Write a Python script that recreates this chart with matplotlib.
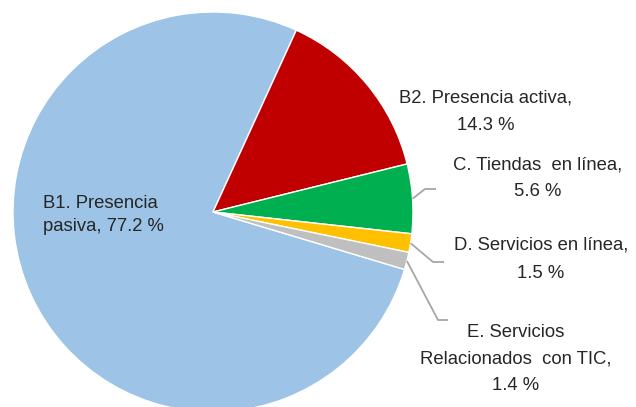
import numpy as np
import matplotlib
matplotlib.use('Agg')
import matplotlib.pyplot as plt

# datos
categorias = ['B1. Presencia pasiva', 'B2. Presencia activa', 'C. Tiendas en línea',
              'D. Servicios en línea', 'E. Servicios Relacionados con TIC']
porcentajes = [77.2, 14.3, 5.6, 1.5, 1.4]
textos = ['B1. Presencia\npasiva, ', 'B2. Presencia activa,\n', 'C. Tiendas  en línea,\n',
          'D. Servicios en línea,\n', 'E. Servicios\nRelacionados  con TIC,\n']
colores = ['#9DC3E6', '#C00000', '#00B050', '#FFC000', '#BFBFBF']

W, H = 636, 407
plt.rcParams['font.family'] = ['Liberation Sans', 'DejaVu Sans']

fig = plt.figure(figsize=(W / 100, H / 100), dpi=100)
ax = fig.add_axes([0, 0, 1, 1])

cx, cy, r = 213, H - 212, 200
wedges, _ = ax.pie(porcentajes, colors=colores, startangle=-16.7, counterclock=False,
                   center=(cx, cy), radius=r,
                   wedgeprops=dict(edgecolor='white', linewidth=1))
ax.set_xlim(0, W)
ax.set_ylim(0, H)
ax.set_aspect('equal')
ax.axis('off')

col_txt = '#262626'
fs = 13.3

# posiciones de etiquetas (pixeles desde arriba): x, y, alineacion, interlineado
pos = [(43, 215, 'left', 1.4), (486, 112, 'center', 1.8), (538, 178, 'center', 1.75),
       (541, 259, 'center', 1.9), (516, 359, 'center', 1.7)]
for i, (x, y, ha, ls) in enumerate(pos):
    t = textos[i] + '%.1f %%' % porcentajes[i]
    ax.text(x, H - y, t, ha=ha, va='center', multialignment=ha, fontsize=fs,
            color=col_txt, linespacing=ls)

# lineas guia para las porciones pequenas
codos = {2: ((425, 189), (436, 189)), 3: ((433, 262), (444, 262)), 4: ((438, 320), (448, 320))}
for i, (codo, fin) in codos.items():
    w = wedges[i]
    ang = np.deg2rad((w.theta1 + w.theta2) / 2)
    x0, y0 = cx + r * np.cos(ang), cy + r * np.sin(ang)
    ax.plot([x0, codo[0], fin[0]], [y0, H - codo[1], H - fin[1]],
            color='#A6A6A6', lw=1.3, solid_capstyle='butt', clip_on=False)

fig.savefig('out.png', dpi=100)
